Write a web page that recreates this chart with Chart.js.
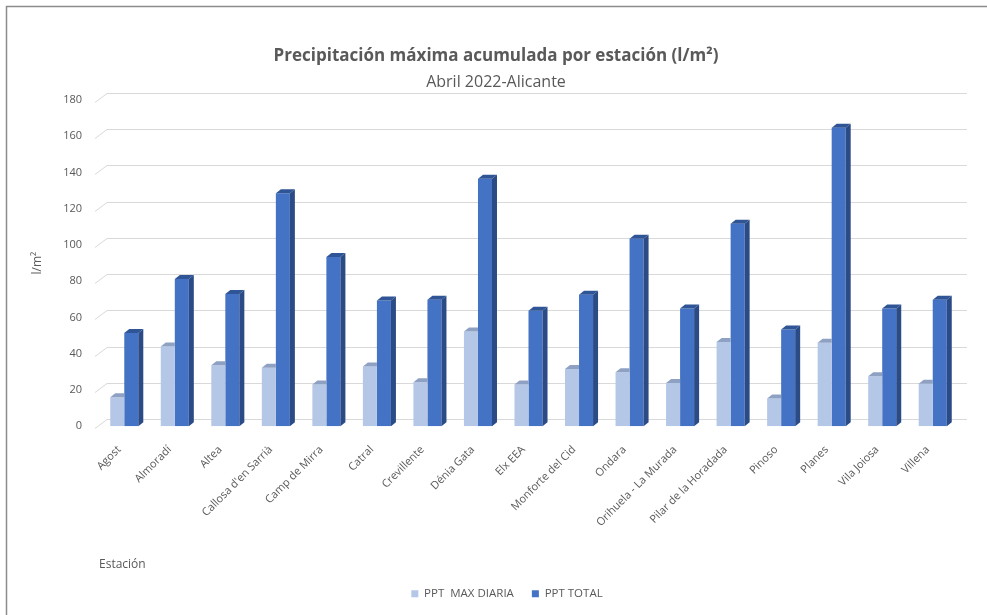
<!DOCTYPE html>
<html>
<head>
<meta charset="utf-8">
<script src="https://cdn.jsdelivr.net/npm/chart.js@4/dist/chart.umd.min.js"></script>
<style>
  html, body { margin: 0; padding: 0; background: #fff; }
  canvas { display: block; }
</style>
</head>
<body>
<canvas id="chart" width="987" height="615"></canvas>
<script>
// data
var estaciones = ["Agost", "Almoradí", "Altea", "Callosa d'en Sarrià", "Camp de Mirra", "Catral",
    "Crevillente", "Dénia Gata", "Elx EEA", "Monforte del Cid", "Ondara", "Orihuela - La Murada",
    "Pilar de la Horadada", "Pinoso", "Planes", "Vila Joiosa", "Villena"];
var pptMaxDiaria = [16, 44, 33.6, 32.2, 23, 33, 24.2, 52.3, 23, 31.6, 29.8, 23.9, 46.5, 15.3, 46, 27.6, 23.4];
var pptTotal = [51.4, 81.2, 73, 128.6, 93.3, 69.3, 69.8, 136.5, 63.7, 72.6, 103.4, 65, 111.7, 53.3, 164.7, 65, 69.8];
var yTicks = [0, 20, 40, 60, 80, 100, 120, 140, 160, 180];

var TEXT = "#595959";
Chart.defaults.font.family = "'Open Sans', 'Liberation Sans', sans-serif";
Chart.defaults.color = TEXT;

// white page with the grey frame at top and left
var framePlugin = {
    id: "frame",
    beforeDraw: function (chart) {
        var ctx = chart.ctx;
        ctx.save();
        ctx.fillStyle = "#fff";
        ctx.fillRect(0, 0, chart.width, chart.height);
        ctx.strokeStyle = "#8c8c8c";
        ctx.lineWidth = 1.5;
        ctx.beginPath();
        ctx.moveTo(6.5, chart.height);
        ctx.lineTo(6.5, 6.5);
        ctx.lineTo(chart.width, 6.5);
        ctx.stroke();
        ctx.restore();
    }
};

// back wall grid lines with the little floor diagonal, like Excel 3D columns
var wallGridPlugin = {
    id: "wallGrid",
    beforeDatasetsDraw: function (chart) {
        var ctx = chart.ctx, area = chart.chartArea, y = chart.scales.y;
        ctx.save();
        ctx.strokeStyle = "#d9d9d9";
        ctx.lineWidth = 1;
        ctx.beginPath();
        y.ticks.forEach(function (t) {
            var py = Math.round(y.getPixelForValue(t.value) - 7) + 0.5;
            ctx.moveTo(area.left - 4, py + 9);
            ctx.lineTo(area.left + 8, py);
            ctx.lineTo(area.right + 9, py);
        });
        ctx.stroke();
        ctx.restore();
    }
};

// top and side faces for each column; the light column's top is cut where
// the dark column in front of it hides it
var DX = 5, DY = 4;
var bar3dPlugin = {
    id: "bar3d",
    afterDatasetsDraw: function (chart) {
        var ctx = chart.ctx;
        ctx.save();
        chart.data.datasets.forEach(function (ds, i) {
            chart.getDatasetMeta(i).data.forEach(function (el) {
                var p = el.getProps(["x", "y", "base", "width"], true);
                var l = p.x - p.width / 2, r = p.x + p.width / 2;
                ctx.fillStyle = ds.topColor;
                ctx.beginPath();
                ctx.moveTo(l, p.y);
                ctx.lineTo(l + DX, p.y - DY);
                if (ds.sideColor) {
                    ctx.lineTo(r + DX, p.y - DY);
                } else {
                    ctx.lineTo(r, p.y - DY);
                }
                ctx.lineTo(r, p.y);
                ctx.closePath();
                ctx.fill();
                if (ds.sideColor) {
                    ctx.fillStyle = ds.sideColor;
                    ctx.beginPath();
                    ctx.moveTo(r, p.y);
                    ctx.lineTo(r + DX, p.y - DY);
                    ctx.lineTo(r + DX, p.base - DY);
                    ctx.lineTo(r, p.base);
                    ctx.closePath();
                    ctx.fill();
                }
            });
        });
        ctx.restore();
    }
};

// legend sits a bit right of the title centre in the reference
var legendShiftPlugin = {
    id: "legendShift",
    afterLayout: function (chart) {
        if (chart.legend) {
            chart.legend.left += 11;
            chart.legend.right += 11;
        }
    }
};

new Chart(document.getElementById("chart"), {
    type: "bar",
    data: {
        labels: estaciones,
        datasets: [{
            label: "PPT  MAX DIARIA",
            data: pptMaxDiaria,
            backgroundColor: "#b4c7e7",
            topColor: "#8ea1c3"
        }, {
            label: "PPT TOTAL",
            data: pptTotal,
            backgroundColor: "#4472c4",
            topColor: "#2f5597",
            sideColor: "#2b4b86"
        }]
    },
    options: {
        responsive: false,
        animation: false,
        events: [],
        categoryPercentage: 0.555,
        barPercentage: 1,
        layout: { padding: { top: 36, right: 29, bottom: 5.5, left: 34 } },
        plugins: {
            title: {
                display: true,
                text: "Precipitación máxima acumulada por estación (l/m²)",
                color: TEXT,
                font: { size: 17, weight: "bold" },
                padding: { top: 10, bottom: 0 }
            },
            subtitle: {
                display: true,
                text: "Abril 2022-Alicante",
                color: TEXT,
                font: { size: 16 },
                padding: { top: 6, bottom: 8.4 }
            },
            legend: {
                position: "bottom",
                labels: {
                    boxWidth: 7,
                    boxHeight: 7,
                    padding: 18,
                    color: TEXT,
                    font: { size: 11.5 }
                }
            },
            tooltip: { enabled: false }
        },
        scales: {
            x: {
                grid: { display: false, drawTicks: false },
                border: { display: false },
                ticks: {
                    autoSkip: false,
                    maxRotation: 45,
                    minRotation: 45,
                    padding: 17,
                    labelOffset: -5,
                    color: TEXT,
                    font: { size: 11 }
                },
                title: {
                    display: true,
                    text: "Estación",
                    align: "start",
                    color: TEXT,
                    font: { size: 12 },
                    padding: { top: 0, bottom: -2 }
                },
                afterFit: function (s) { s.height = 143.8; }
            },
            y: {
                min: 0,
                max: 180,
                grid: { display: false, drawTicks: false },
                border: { display: false },
                afterBuildTicks: function (s) {
                    s.ticks = yTicks.map(function (v) { return { value: v }; });
                },
                ticks: {
                    padding: 17,
                    color: TEXT,
                    font: { size: 11 }
                },
                title: {
                    display: true,
                    text: "l/m²",
                    color: TEXT,
                    font: { size: 12 },
                    padding: { top: -3.2, bottom: 0 }
                },
                afterFit: function (s) { s.width = 65; }
            }
        }
    },
    plugins: [framePlugin, wallGridPlugin, bar3dPlugin, legendShiftPlugin]
});
</script>
</body>
</html>
